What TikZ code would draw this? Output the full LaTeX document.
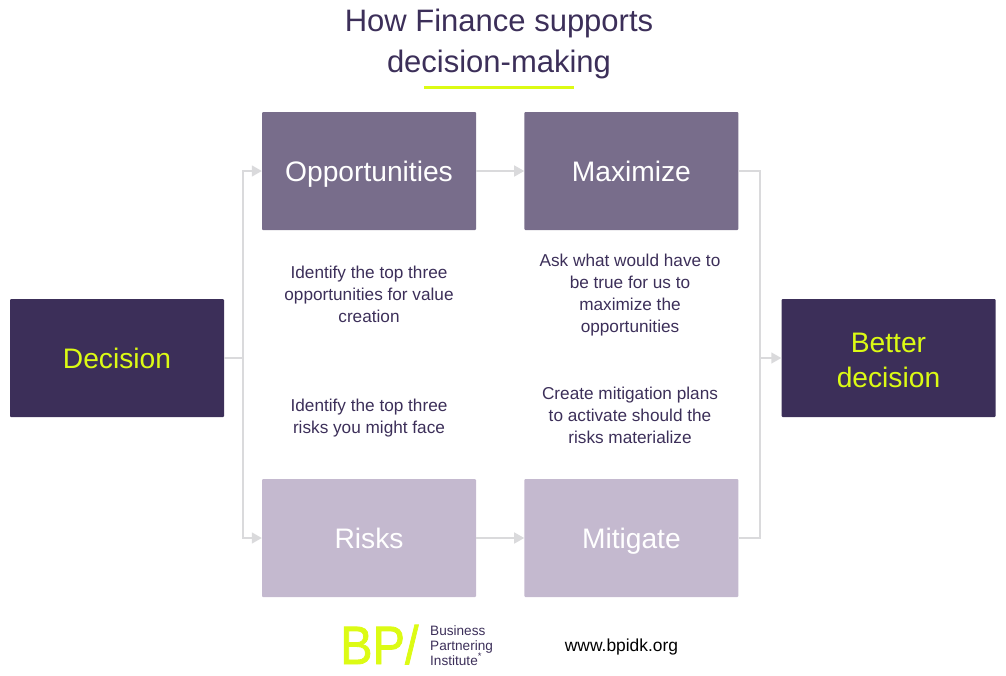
\documentclass[tikz,border=0pt]{standalone}
\usepackage{fontspec}
\setmainfont{Liberation Sans}
\newfontfamily\logofont[FakeBold=1.5]{Liberation Sans}
\usetikzlibrary{positioning,arrows.meta}
\definecolor{bpidark}{HTML}{3C2F59}
\definecolor{bpimid}{HTML}{786D8B}
\definecolor{bpilight}{HTML}{C4B9CF}
\definecolor{bpilime}{HTML}{DCFB14}
\definecolor{linkgray}{HTML}{DADADC}
\newlength{\boxwide}
\setlength{\boxwide}{214pt}
\newlength{\boxhigh}
\setlength{\boxhigh}{118pt}
\tikzset{
  box/.style={
    minimum width=\boxwide,
    minimum height=\boxhigh,
    inner sep=0pt,
    rounded corners=1pt,
    font=\fontsize{28.2}{35}\selectfont,
    align=center,
    text=white
  },
  oneline/.style={text height=20.2pt, text depth=0pt},
  darkbox/.style={box, fill=bpidark, text=bpilime},
  midbox/.style={box, oneline, fill=bpimid},
  lightbox/.style={box, oneline, fill=bpilight},
  note/.style={font=\fontsize{17.2}{22}\selectfont, text=bpidark, align=center, inner sep=0pt},
  ttl/.style={font=\fontsize{31}{41}\selectfont, text=bpidark, align=center, inner sep=0pt},
  link/.style={draw=linkgray, line width=1.5pt},
  linkarrow/.style={link, -{Triangle[length=10pt,width=11pt]}},
}
\begin{document}
\begin{tikzpicture}[x=1pt,y=-1pt]
  \useasboundingbox (0,0) rectangle (1006,675);
  % title
  \node[ttl] (title) at (499,43.5) {How Finance supports\\decision-making};
  \coordinate (ruleL) at (424,87.5);
  \coordinate (ruleR) at (574,87.5);
  \draw[draw=bpilime, line width=2.4pt] (ruleL) -- (ruleR);
  % boxes
  \node[darkbox, oneline] (decision) at (117,358) {Decision};
  \node[midbox] (opportunities) at (369,171) {Opportunities};
  \node[midbox, right=48pt of opportunities] (maximize) {Maximize};
  \node[lightbox] (risks) at (369,538) {Risks};
  \node[lightbox, right=48pt of risks] (mitigate) {Mitigate};
  \node[darkbox] (better) at (888.5,358) {\rule{0pt}{24.5pt}Better\\decision};
  % notes
  \node[note] (noteA) at (369,294) {Identify the top three\\opportunities for value\\creation};
  \node[note] (noteB) at (630,295.5) {Ask what would have to\\be true for us to\\maximize the\\opportunities};
  \node[note] (noteC) at (369,418.5) {Identify the top three\\risks you might face};
  \node[note] (noteD) at (630,415) {Create mitigation plans\\to activate should the\\risks materialize};
  % connectors
  \coordinate (splitL) at (243,358);
  \coordinate (joinR) at (760,358);
  \draw[link] (decision.east) -- (splitL);
  \draw[linkarrow] (splitL) |- (opportunities.west);
  \draw[linkarrow] (splitL) |- (risks.west);
  \draw[linkarrow] (opportunities) -- (maximize);
  \draw[linkarrow] (risks) -- (mitigate);
  \draw[link] (maximize.east) -| (joinR);
  \draw[link] (mitigate.east) -| (joinR);
  \draw[linkarrow] (joinR) -- (better.west);
  % footer
  \node[inner sep=0pt, anchor=base west, text=bpilime, xscale=0.9, transform shape, font=\logofont\fontsize{54}{54}\selectfont] (logo) at (340,664) {BP/};
  \node[inner sep=0pt, anchor=north west, text=bpidark, align=left, font=\fontsize{13.6}{15}\selectfont] (institute) at (430,625) {Business\\Partnering\\Institute\textsuperscript{*}};
  \node[inner sep=0pt, text=black, font=\fontsize{17.4}{20}\selectfont] (site) at (621.5,646.5) {www.bpidk.org};
\end{tikzpicture}
\end{document}
